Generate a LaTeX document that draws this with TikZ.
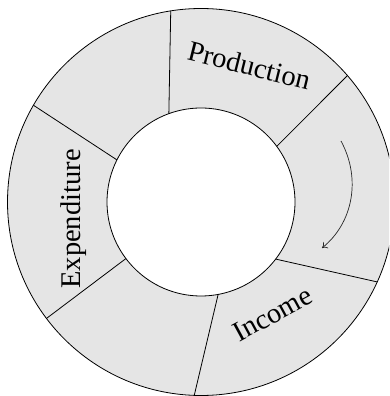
\documentclass[tikz,border=0pt]{standalone}
\usepackage{fontspec}
\setmainfont{Liberation Serif}
\usetikzlibrary{arrows.meta,calc}
\begin{document}
\begin{tikzpicture}[x=1pt,y=1pt,
  ring/.style={draw=black,line width=0.8pt},
  divider/.style={draw=black,line width=0.8pt},
  label/.style={font=\fontsize{28.5}{34}\selectfont,inner sep=0pt,anchor=base},
  flow/.style={draw=black!85,line width=0.7pt,-{To[length=5pt,width=8pt]}}]
  \useasboundingbox (0,0) rectangle (389,396);
  \clip (0,0) rectangle (389,396);
  % centre and radii of the ring
  \coordinate (c) at (201,194);
  \def\rin{94}
  \def\rout{193.5}
  % shaded ring
  \fill[gray!20,even odd rule] (c) circle[radius=\rout] (c) circle[radius=\rin];
  \draw[ring] (c) circle[radius=\rout];
  \draw[ring] (c) circle[radius=\rin];
  % segment borders
  \foreach \a/\b [count=\i] in {110/99, 36.3/40.8, -37.4/-24.4, -79.5/-92, -143/-143, 153.4/150}{
    \coordinate (in\i) at ($(c)+(\a:\rin)$);
    \coordinate (out\i) at ($(c)+(\b:\rout)$);
    \draw[divider] (in\i) -- (out\i);
  }
  % labels
  \node[label,rotate=-14] (prod) at (247,321) {Production};
  \node[label,rotate=28.5] (inc) at (277,74) {Income};
  \node[label,rotate=90] (exp) at (80,177) {Expenditure};
  % direction of flow
  \coordinate (fa) at (341,255);
  \coordinate (fb) at (322,148);
  \draw[flow] (fa) .. controls (362,216) and (352,172) .. (fb);
\end{tikzpicture}
\end{document}
